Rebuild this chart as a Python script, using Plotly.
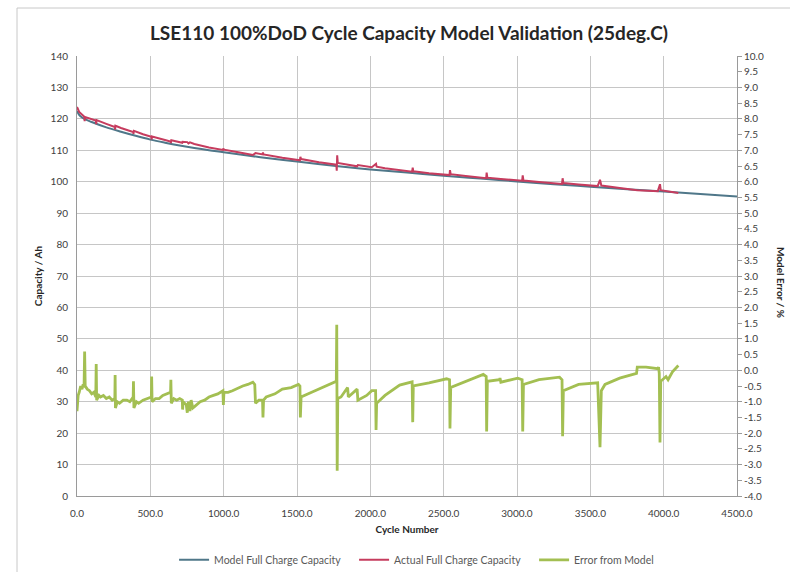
import plotly.graph_objects as go

# ---------------- data ----------------
model_cycles = [0, 20, 50, 100, 200, 300, 400, 500, 600, 700, 800, 900, 1000,
                1250, 1500, 1750, 2000, 2250, 2500, 2750, 3000, 3250, 3500,
                3750, 4000, 4250, 4500]
model_capacity = [122.5, 121.0, 120.0, 119.0, 117.3, 115.9, 114.6, 113.4, 112.4,
                  111.5, 110.7, 110.0, 109.4, 107.8, 106.4, 105.1, 103.9, 102.9,
                  101.9, 101.0, 100.1, 99.2, 98.4, 97.6, 96.9, 96.1, 95.3]

actual_cycles = [0, 15, 50, 52, 56, 100, 128, 131, 134, 200, 258, 260, 262, 300,
                 383, 385, 388, 450, 507, 509, 512, 600, 638, 640, 643, 718, 720,
                 752, 760, 770, 800, 900, 995, 998, 1002, 1100, 1199, 1217, 1265,
                 1268, 1272, 1400, 1520, 1523, 1528, 1650, 1768, 1771, 1774, 1778,
                 1850, 1910, 1915, 2010, 2039, 2043, 2100, 2200, 2285, 2289, 2293,
                 2400, 2540, 2543, 2548, 2650, 2790, 2793, 2798, 2890, 3035, 3039,
                 3044, 3150, 3307, 3311, 3316, 3420, 3550, 3566, 3575, 3700, 3815,
                 3820, 3960, 3975, 3980, 4050, 4100]
actual_capacity = [123.8, 122.2, 120.7, 119.3, 120.6, 119.9, 119.5, 118.3, 119.6,
                   118.4, 117.4, 116.6, 117.8, 117.1, 115.8, 115.2, 116.2, 115.1,
                   114.3, 113.5, 114.4, 113.3, 112.8, 112.3, 113.2, 112.4, 112.7,
                   112.6, 112.2, 112.5, 112.0, 110.9, 110.1, 110.6, 110.2, 109.4,
                   108.5, 109.1, 108.7, 109.3, 108.7, 107.6, 106.8, 107.9, 107.2,
                   106.2, 105.4, 103.5, 108.4, 106.0, 105.5, 104.9, 105.3, 104.6,
                   105.7, 104.8, 104.3, 103.6, 103.2, 104.5, 103.3, 102.7, 102.1,
                   103.7, 102.4, 101.8, 101.1, 102.9, 101.3, 100.9, 100.3, 102.0,
                   100.4, 99.9, 99.3, 101.1, 99.6, 99.1, 98.6, 100.6, 98.8, 98.0,
                   97.5, 97.3, 97.0, 99.2, 97.3, 96.8, 96.4]

error_cycles = [0, 8, 15, 25, 34, 42, 48, 52, 56, 70, 85, 100, 115, 128, 131, 134,
                150, 160, 180, 200, 220, 240, 258, 260, 262, 275, 290, 315, 340,
                360, 383, 385, 388, 405, 420, 450, 480, 507, 509, 512, 535, 560,
                585, 610, 638, 640, 643, 660, 680, 700, 718, 720, 723, 745, 752,
                760, 770, 778, 790, 803, 840, 870, 900, 930, 960, 995, 998, 1002,
                1030, 1060, 1100, 1130, 1165, 1199, 1212, 1217, 1240, 1265, 1268,
                1272, 1290, 1350, 1400, 1460, 1510, 1520, 1523, 1528, 1600, 1650,
                1700, 1768, 1771, 1774, 1778, 1800, 1845, 1850, 1910, 1915, 1975,
                2010, 2036, 2039, 2043, 2100, 2200, 2285, 2289, 2293, 2400, 2520,
                2540, 2543, 2548, 2650, 2770, 2790, 2793, 2798, 2880, 2884, 2890,
                3005, 3035, 3039, 3044, 3150, 3290, 3307, 3311, 3316, 3420, 3550,
                3566, 3575, 3600, 3700, 3815, 3820, 3880, 3960, 3965, 3970, 3975,
                3980, 4016, 4030, 4060, 4100]
error_pct = [-1.3, -0.8, -0.7, -0.5, -0.6, -0.45, -0.55, 0.6, -0.5, -0.6, -0.65,
             -0.75, -0.7, -0.85, 0.2, -0.95, -0.8, -0.85, -0.8, -0.9, -0.85, -0.95,
             -0.9, -0.15, -1.2, -1.0, -1.05, -0.95, -0.95, -1.0, -0.85, -0.35,
             -1.2, -1.0, -1.05, -0.95, -0.9, -0.85, -0.2, -1.0, -0.9, -0.9, -0.8,
             -0.75, -0.7, -0.3, -1.05, -0.9, -0.95, -0.9, -0.95, -1.25, -1.0, -1.1,
             -1.35, -1.0, -1.3, -0.95, -1.2, -1.15, -1.0, -0.95, -0.85, -0.8,
             -0.75, -0.65, -1.1, -0.7, -0.7, -0.65, -0.55, -0.5, -0.45, -0.38,
             -0.45, -1.05, -0.95, -0.95, -1.5, -0.95, -0.85, -0.75, -0.6, -0.55,
             -0.45, -0.5, -1.5, -0.85, -0.7, -0.6, -0.5, -0.35, 1.45, -3.2, -0.9,
             -0.85, -0.55, -0.85, -0.6, -0.95, -0.8, -0.65, -0.65, -1.9, -1.05,
             -0.8, -0.47, -0.37, -1.65, -0.5, -0.4, -0.27, -0.3, -1.85, -0.55,
             -0.35, -0.13, -0.2, -1.95, -0.35, -0.3, -0.25, -0.38, -0.25, -0.3,
             -1.95, -0.45, -0.3, -0.22, -0.3, -2.1, -0.65, -0.45, -0.4, -2.45,
             -0.65, -0.45, -0.25, -0.1, 0.1, 0.1, 0.05, 0.1, -0.1, -2.3, -0.35,
             -0.2, -0.3, -0.05, 0.15]

left_ticks = list(range(0, 141, 10))
right_ticks = [v / 2 for v in range(-8, 21)]
x_ticks = list(range(0, 4501, 500))

# ---------------- figure ----------------
FONT = "Lato, 'Open Sans', sans-serif"
GRID = "#c6c6c6"
AXIS = "#9a9a9a"
TICKC = "#404040"

fig = go.Figure()
fig.add_trace(go.Scatter(x=model_cycles, y=model_capacity, mode="lines",
                         name="Model Full Charge Capacity",
                         line=dict(color="#4f7789", width=2, shape="spline")))
fig.add_trace(go.Scatter(x=actual_cycles, y=actual_capacity, mode="lines",
                         name="Actual Full Charge Capacity",
                         line=dict(color="#c63c5e", width=2)))
fig.add_trace(go.Scatter(x=error_cycles, y=error_pct, mode="lines",
                         name="Error from Model", yaxis="y2",
                         line=dict(color="#a3bf52", width=2.8)))

fig.update_layout(
    width=790, height=572,
    margin=dict(l=77, r=53, t=56, b=76, autoexpand=False),
    paper_bgcolor="white", plot_bgcolor="white",
    font=dict(family=FONT, size=10, color=TICKC),
    title=dict(text="<b>LSE110 100%DoD Cycle Capacity Model Validation (25deg.C)</b>",
               x=409 / 790, xanchor="center", y=1 - 33 / 572, yanchor="middle",
               font=dict(family=FONT, size=19, color="#262626")),
    xaxis=dict(range=[0, 4500], tickvals=x_ticks,
               ticktext=[f"{v:.1f}" for v in x_ticks],
               showgrid=True, gridcolor=GRID, gridwidth=1,
               showline=True, linecolor=AXIS, linewidth=1,
               zeroline=False, ticks="", ticklabelstandoff=8,
               automargin=False,
               tickfont=dict(size=10, color=TICKC),
               title=dict(text="<b>Cycle Number</b>", standoff=7,
                          font=dict(size=10, color="#262626"))),
    yaxis=dict(range=[0, 140], tickvals=left_ticks,
               showgrid=True, gridcolor=GRID, gridwidth=1,
               showline=True, linecolor=AXIS, linewidth=1,
               zeroline=False, ticks="", ticklabelstandoff=6,
               automargin=False,
               tickfont=dict(size=10, color=TICKC),
               title=dict(text="<b>Capacity / Ah</b>", standoff=6,
                          font=dict(size=10, color="#262626"))),
    yaxis2=dict(range=[-4, 10], tickvals=right_ticks,
                ticktext=[f"{v:.1f}" for v in right_ticks],
                overlaying="y", side="right", showgrid=False,
                showline=True, linecolor=AXIS, linewidth=1,
                zeroline=False, ticks="outside", ticklen=4, tickcolor=AXIS,
                automargin=False,
                tickfont=dict(size=10, color=TICKC)),
    legend=dict(orientation="h", x=(182 - 77) / 660 - 0.012, xanchor="left",
                y=-0.145, yanchor="middle",
                font=dict(size=10.5, color="#595959"),
                entrywidth=135, entrywidthmode="pixels",
                tracegroupgap=0, bgcolor="rgba(0,0,0,0)"),
    showlegend=True,
)

fig.add_annotation(text="<b>Model Error / %</b>", xref="paper", yref="paper",
                   x=1.0 + (781 - 737) / 660, xanchor="center",
                   y=(496 - 282) / 440, yanchor="middle", textangle=90,
                   showarrow=False, font=dict(size=10, color="#262626"))

# chart-area frame (left and top edges visible in the reference)
fig.add_shape(type="rect", xref="paper", yref="paper",
              x0=(17 - 77) / 660, x1=(795 - 77) / 660,
              y0=(496 - 580) / 440, y1=(496 - 8) / 440,
              line=dict(color="#c8c8c8", width=1), layer="below")

fig.write_html("out.html", config={"displayModeBar": False},
               post_script="document.body.style.margin='0';"
                           "document.body.style.overflow='hidden';")
